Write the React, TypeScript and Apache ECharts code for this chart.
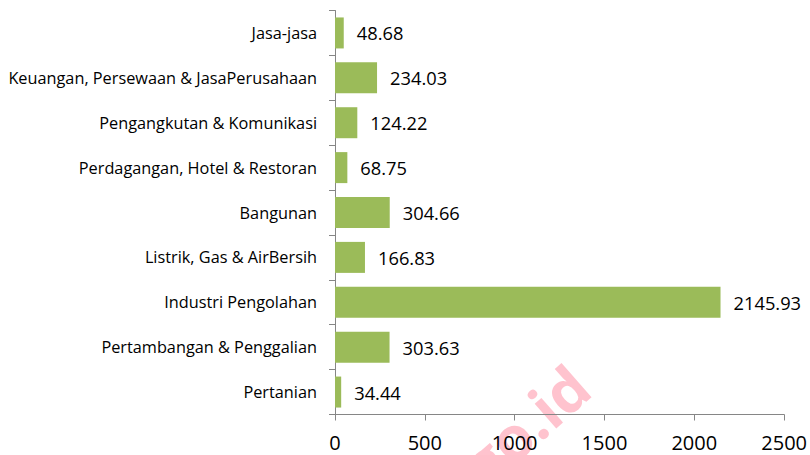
import React, { useEffect, useRef } from "react";
import * as echarts from "echarts";

const categories = [
  "Pertanian",
  "Pertambangan & Penggalian",
  "Industri Pengolahan",
  "Listrik, Gas & AirBersih",
  "Bangunan",
  "Perdagangan, Hotel & Restoran",
  "Pengangkutan & Komunikasi",
  "Keuangan, Persewaan & JasaPerusahaan",
  "Jasa-jasa",
];
const values = [34.44, 303.63, 2145.93, 166.83, 304.66, 68.75, 124.22, 234.03, 48.68];
const xMin = 0;
const xMax = 2500;
const xInterval = 500;
const watermark = "bps.go.id";

export default function App() {
  const ref = useRef<HTMLDivElement>(null);
  useEffect(() => {
    if (!ref.current) return;
    const chart = echarts.init(ref.current, undefined, { renderer: "svg" });
    const font = "'Open Sans', 'Noto Sans', sans-serif";
    chart.setOption({
      animation: false,
      grid: { left: 335, right: 25, top: 10.5, bottom: 40.5, containLabel: false },
      xAxis: {
        type: "value",
        min: xMin,
        max: xMax,
        interval: xInterval,
        splitLine: { show: false },
        axisLine: { show: true, lineStyle: { color: "#868686", width: 1 } },
        axisTick: { show: true, length: 6, lineStyle: { color: "#868686" } },
        axisLabel: {
          fontSize: 20,
          color: "#000",
          margin: 18,
          fontFamily: font,
          formatter: (v: number) => String(v),
        },
      },
      yAxis: {
        type: "category",
        data: categories,
        axisLine: { show: true, lineStyle: { color: "#868686", width: 1 } },
        axisTick: { show: true, length: 6, lineStyle: { color: "#868686" } },
        axisLabel: { fontSize: 16.3, color: "#000", margin: 18, fontFamily: font },
      },
      series: [
        {
          type: "bar",
          data: values,
          barWidth: 31,
          itemStyle: { color: "#9BBB59" },
          label: {
            show: true,
            position: "right",
            distance: 13,
            fontSize: 18.3,
            color: "#000",
            fontFamily: font,
            formatter: (p: any) => p.value.toFixed(2),
          },
        },
      ],
      graphic: [
        {
          type: "text",
          x: 580,
          y: 377,
          rotation: 0.72,
          silent: true,
          z: -1,
          style: {
            text: watermark,
            fontSize: 60,
            fontWeight: "bold",
            fontFamily: "'Open Sans', sans-serif",
            fill: "rgba(255, 40, 80, 0.28)",
            textAlign: "right",
            textVerticalAlign: "middle",
          },
        },
      ],
    });
    return () => chart.dispose();
  }, []);
  return <div ref={ref} style={{ width: 810, height: 455, position: "absolute", left: 0, top: 0 }} />;
}
